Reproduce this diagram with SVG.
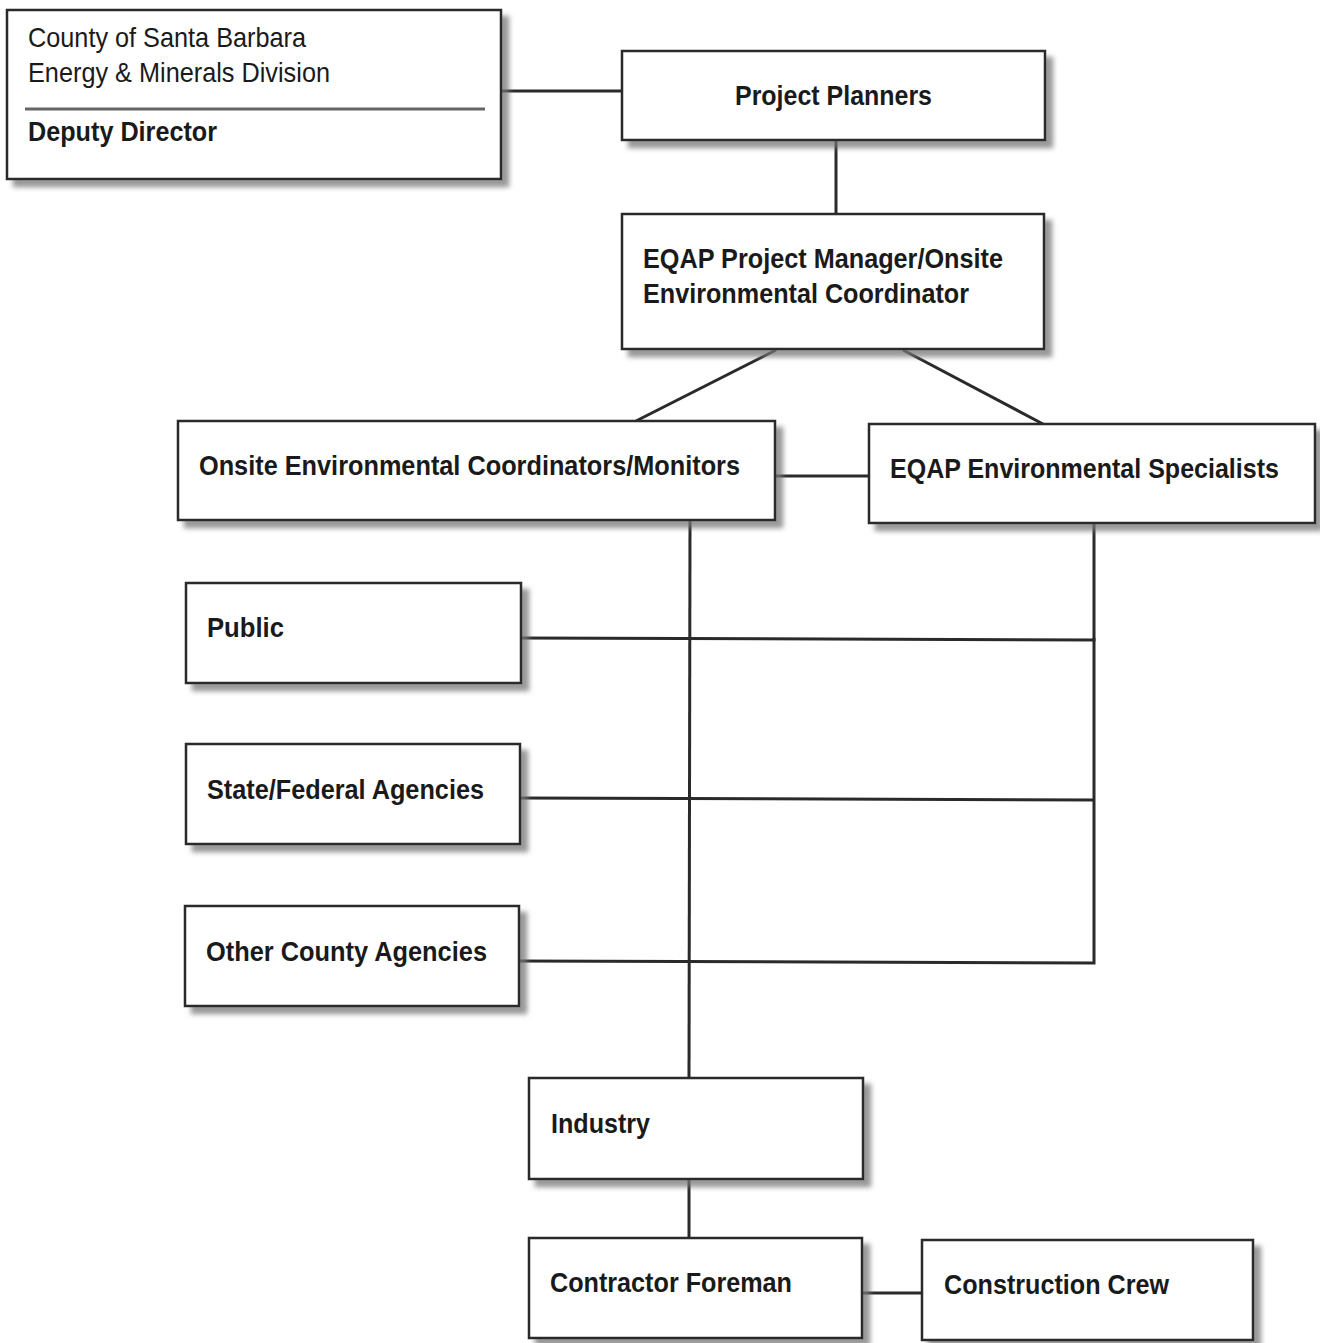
<svg xmlns="http://www.w3.org/2000/svg" width="1320" height="1343" viewBox="0 0 1320 1343">
<defs>
<filter id="sh" x="-5%" y="-10%" width="115%" height="130%">
<feDropShadow dx="7" dy="7" stdDeviation="2.5" flood-color="#777" flood-opacity="0.75"/>
</filter>
<style>
.box{fill:#fff;stroke:#2a2a2a;stroke-width:2.5;filter:url(#sh)}
.t{font-family:"Liberation Sans",Arial,sans-serif;font-size:28px;fill:#1a1a1a}
.b{font-weight:bold}
.c{stroke:#2a2a2a;stroke-width:3;fill:none}
</style>
</defs>
<rect width="1320" height="1343" fill="#fff"/>
<g id="connectors">
<line class="c" x1="501" y1="91" x2="622" y2="91"/>
<line class="c" x1="836" y1="140" x2="836" y2="214"/>
<line class="c" x1="776" y1="350" x2="636" y2="421"/>
<line class="c" x1="903" y1="350" x2="1043" y2="424"/>
<line class="c" x1="775" y1="476" x2="869" y2="476"/>
<line class="c" x1="690" y1="520" x2="689" y2="1078"/>
<polyline class="c" points="521,638 1094,640 1094,523"/>
<line class="c" x1="520" y1="798" x2="1094" y2="800"/>
<polyline class="c" points="519,961 1094,963 1094,638"/>
<line class="c" x1="689" y1="1179" x2="689" y2="1238"/>
<line class="c" x1="862" y1="1293" x2="922" y2="1293"/>
</g>
<g id="county">
<rect class="box" x="7" y="10" width="494" height="169"/>
<line x1="25" y1="109" x2="485" y2="109" stroke="#666" stroke-width="3"/>
<text class="t" x="28" y="47" textLength="278" lengthAdjust="spacingAndGlyphs">County of Santa Barbara</text>
<text class="t" x="28" y="82" textLength="302" lengthAdjust="spacingAndGlyphs">Energy &amp; Minerals Division</text>
<text class="t b" x="28" y="141" textLength="189" lengthAdjust="spacingAndGlyphs">Deputy Director</text>
</g>
<g id="project-planners">
<rect class="box" x="622" y="51" width="423" height="89"/>
<text class="t b" x="735" y="105" textLength="197" lengthAdjust="spacingAndGlyphs">Project Planners</text>
</g>
<g id="eqap-pm">
<rect class="box" x="622" y="214" width="422" height="135"/>
<text class="t b" x="643" y="268" textLength="360" lengthAdjust="spacingAndGlyphs">EQAP Project Manager/Onsite</text>
<text class="t b" x="643" y="303" textLength="326" lengthAdjust="spacingAndGlyphs">Environmental Coordinator</text>
</g>
<g id="onsite">
<rect class="box" x="178" y="421" width="597" height="99"/>
<text class="t b" x="199" y="475" textLength="541" lengthAdjust="spacingAndGlyphs">Onsite Environmental Coordinators/Monitors</text>
</g>
<g id="specialists">
<rect class="box" x="869" y="424" width="446" height="99"/>
<text class="t b" transform="translate(890,478) scale(0.89,1)" x="0" y="0" textLength="437" lengthAdjust="spacingAndGlyphs">EQAP Environmental Specialists</text>
</g>
<g id="public">
<rect class="box" x="186" y="583" width="335" height="100"/>
<text class="t b" x="207" y="637" textLength="77" lengthAdjust="spacingAndGlyphs">Public</text>
</g>
<g id="state-federal">
<rect class="box" x="186" y="744" width="334" height="100"/>
<text class="t b" x="207" y="799" textLength="277" lengthAdjust="spacingAndGlyphs">State/Federal Agencies</text>
</g>
<g id="other-county">
<rect class="box" x="185" y="906" width="334" height="100"/>
<text class="t b" x="206" y="961" textLength="281" lengthAdjust="spacingAndGlyphs">Other County Agencies</text>
</g>
<g id="industry">
<rect class="box" x="529" y="1078" width="334" height="101"/>
<text class="t b" x="551" y="1133" textLength="99" lengthAdjust="spacingAndGlyphs">Industry</text>
</g>
<g id="contractor">
<rect class="box" x="529" y="1238" width="333" height="100"/>
<text class="t b" x="550" y="1292" textLength="242" lengthAdjust="spacingAndGlyphs">Contractor Foreman</text>
</g>
<g id="crew">
<rect class="box" x="922" y="1240" width="331" height="100"/>
<text class="t b" x="944" y="1294" textLength="225" lengthAdjust="spacingAndGlyphs">Construction Crew</text>
</g>
</svg>
